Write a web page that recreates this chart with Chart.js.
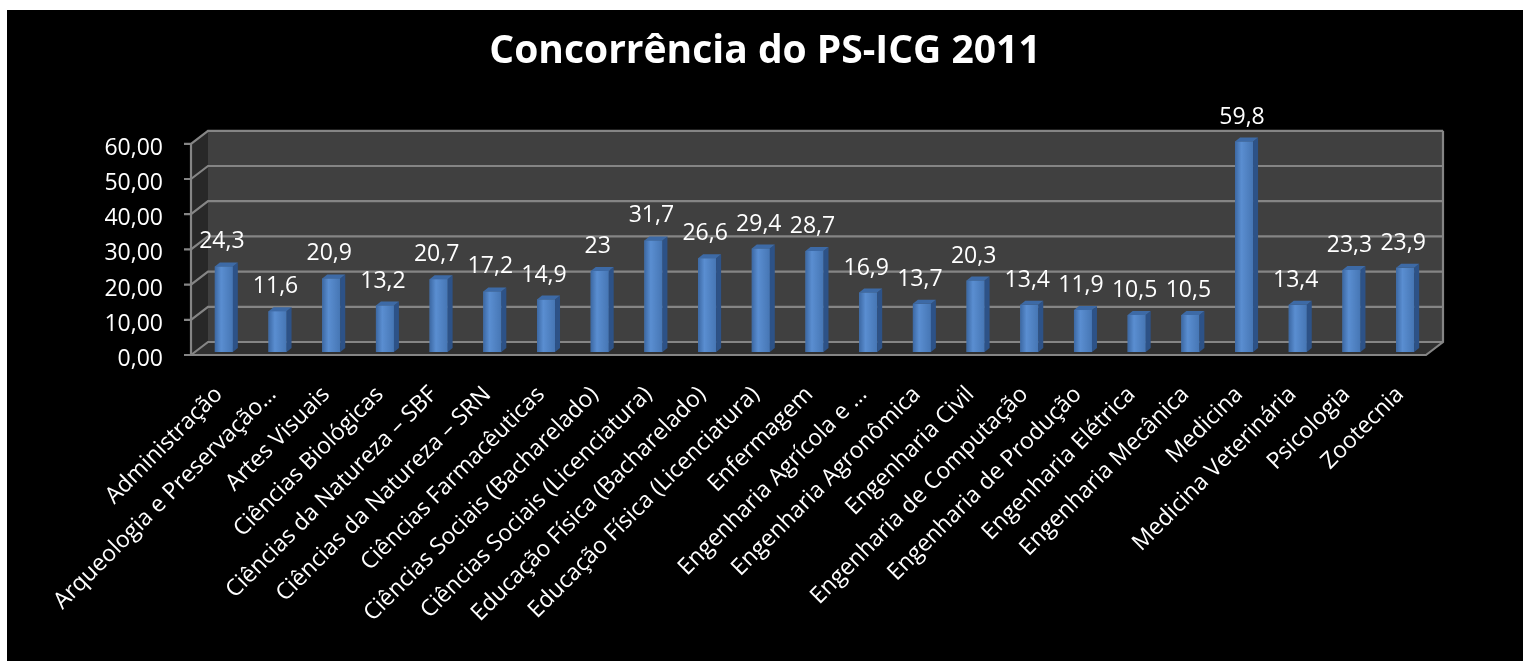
<!DOCTYPE html>
<html>
<head>
<meta charset="utf-8">
<script src="https://cdn.jsdelivr.net/npm/chart.js@4.4.0/dist/chart.umd.min.js"></script>
<style>
  html, body { margin: 0; padding: 0; background: #fff; }
  #wrap { position: absolute; left: 7px; top: 10px; width: 1516px; height: 651px; background: #000; }
</style>
</head>
<body>
<div id="wrap"><canvas id="chart" width="1516" height="651"></canvas></div>
<script>
// dados
const categories = [
    'Administração', 'Arqueologia e Preservação…', 'Artes Visuais', 'Ciências Biológicas',
    'Ciências da Natureza – SBF', 'Ciências da Natureza – SRN', 'Ciências Farmacêuticas',
    'Ciências Sociais (Bacharelado)', 'Ciências Sociais (Licenciatura)',
    'Educação Física (Bacharelado)', 'Educação Física (Licenciatura)', 'Enfermagem',
    'Engenharia Agrícola e …', 'Engenharia Agronômica', 'Engenharia Civil',
    'Engenharia de Computação', 'Engenharia de Produção', 'Engenharia Elétrica',
    'Engenharia Mecânica', 'Medicina', 'Medicina Veterinária', 'Psicologia', 'Zootecnia'
];
const concorrencia = [24.3, 11.6, 20.9, 13.2, 20.7, 17.2, 14.9, 23, 31.7, 26.6, 29.4, 28.7,
    16.9, 13.7, 20.3, 13.4, 11.9, 10.5, 10.5, 59.8, 13.4, 23.3, 23.9];
const yTicks = [0, 10, 20, 30, 40, 50, 60];
const chartTitle = 'Concorrência do PS-ICG 2011';

const FONT = '"Open Sans", sans-serif';
const FRONT = { dx: -6, dy: 3 };   // plano da frente (eixo)
const BACK = { dx: 11, dy: -10 };  // parede do fundo

const fmt = (v, dec) => (dec === undefined ? String(v) : v.toFixed(dec)).replace('.', ',');

function poly(ctx, pts, fill) {
    ctx.beginPath();
    ctx.moveTo(pts[0][0], pts[0][1]);
    for (let i = 1; i < pts.length; i++) ctx.lineTo(pts[i][0], pts[i][1]);
    ctx.closePath();
    ctx.fillStyle = fill;
    ctx.fill();
}

// desenha paredes, piso e grade em "3D"
const frame3d = {
    id: 'frame3d',
    beforeDatasetsDraw(chart) {
        const { ctx, chartArea: a, scales: { y } } = chart;
        const fy = v => y.getPixelForValue(v) + FRONT.dy;
        const by = v => y.getPixelForValue(v) + BACK.dy;
        const fl = a.left + FRONT.dx, fr = a.right + FRONT.dx;
        const bl = a.left + BACK.dx, br = a.right + BACK.dx;
        const top = y.max, bot = y.min;
        ctx.save();
        ctx.fillStyle = '#404040';
        ctx.fillRect(bl, by(top), br - bl, by(bot) - by(top));
        poly(ctx, [[fl, fy(top)], [bl, by(top)], [bl, by(bot)], [fl, fy(bot)]], '#282828');
        poly(ctx, [[fl, fy(bot)], [bl, by(bot)], [br, by(bot)], [fr, fy(bot)]], '#303030');

        ctx.strokeStyle = '#858585';
        ctx.lineWidth = 2.2;
        y.ticks.forEach(t => {
            ctx.beginPath();
            ctx.moveTo(fl - 7, fy(t.value));
            ctx.lineTo(fl, fy(t.value));
            ctx.lineTo(bl, by(t.value));
            ctx.lineTo(br, by(t.value));
            ctx.stroke();
        });
        ctx.beginPath();
        ctx.moveTo(fl, fy(top)); ctx.lineTo(fl, fy(bot)); ctx.lineTo(fr, fy(bot));
        ctx.lineTo(br, by(bot)); ctx.lineTo(br, by(top));
        ctx.stroke();

        // rótulos do eixo y
        ctx.fillStyle = '#fff';
        ctx.font = '23px ' + FONT;
        ctx.textAlign = 'right';
        ctx.textBaseline = 'alphabetic';
        y.ticks.forEach(t => {
            ctx.fillText(fmt(t.value, 2), fl - 28, y.getPixelForValue(t.value) + 14);
        });
        ctx.restore();
    },
    afterDatasetsDraw(chart) {
        const { ctx } = chart;
        const meta = chart.getDatasetMeta(0);
        const data = chart.data.datasets[0].data;
        ctx.save();
        meta.data.forEach((bar, i) => {
            const { x, y: top, base, width } = bar.getProps(['x', 'y', 'base', 'width'], true);
            const l = x - width / 2, r = x + width / 2, d = 5, h = 4;
            const g = ctx.createLinearGradient(l, 0, r, 0);
            g.addColorStop(0, '#3c68a3');
            g.addColorStop(0.35, '#5a8ed1');
            g.addColorStop(1, '#4676b4');
            ctx.fillStyle = g;
            ctx.fillRect(l, top, width, base - top);
            poly(ctx, [[r, top], [r + d, top - h], [r + d, base - h], [r, base]], '#2d5287');
            poly(ctx, [[l, top], [l + d, top - h], [r + d, top - h], [r, top]], '#3d6aa6');

            ctx.fillStyle = '#fff';
            ctx.font = '23px ' + FONT;
            ctx.textAlign = 'center';
            ctx.textBaseline = 'alphabetic';
            ctx.fillText(fmt(data[i]), x - 2, top - 18);
        });
        ctx.restore();
    }
};

function draw() {
    const ctx = document.getElementById('chart').getContext('2d');
    new Chart(ctx, {
        type: 'bar',
        data: {
            labels: categories,
            datasets: [{
                data: concorrencia,
                backgroundColor: '#4f81bd',
                barPercentage: 0.335,
                categoryPercentage: 1
            }]
        },
        options: {
            responsive: false,
            animation: false,
            layout: { padding: 0 },
            plugins: {
                legend: { display: false },
                tooltip: { enabled: false },
                title: {
                    display: true,
                    text: chartTitle,
                    color: '#fff',
                    font: { family: FONT, weight: 'bold', size: 39 },
                    padding: { top: 18, bottom: 66 }
                }
            },
            scales: {
                x: {
                    grid: { display: false, drawTicks: false },
                    border: { display: false },
                    ticks: {
                        autoSkip: false, minRotation: 45, maxRotation: 45,
                        color: '#fff', font: { family: FONT, size: 23 },
                        padding: 29, labelOffset: -5
                    },
                    afterFit: s => { s.height = 309; }
                },
                y: {
                    min: yTicks[0],
                    max: yTicks[yTicks.length - 1],
                    ticks: { display: false, stepSize: yTicks[1] - yTicks[0] },
                    grid: { display: false },
                    border: { display: false },
                    afterFit: s => { s.width = 190; }
                },
                // eixo vazio só para reservar a margem direita
                yRight: {
                    position: 'right',
                    display: true,
                    ticks: { display: false },
                    grid: { display: false },
                    border: { display: false },
                    afterFit: s => { s.width = 91; }
                }
            }
        },
        plugins: [frame3d]
    });
}

Promise.all([
    document.fonts.load('23px "Open Sans"'),
    document.fonts.load('bold 39px "Open Sans"')
]).then(draw, draw);
</script>
</body>
</html>
